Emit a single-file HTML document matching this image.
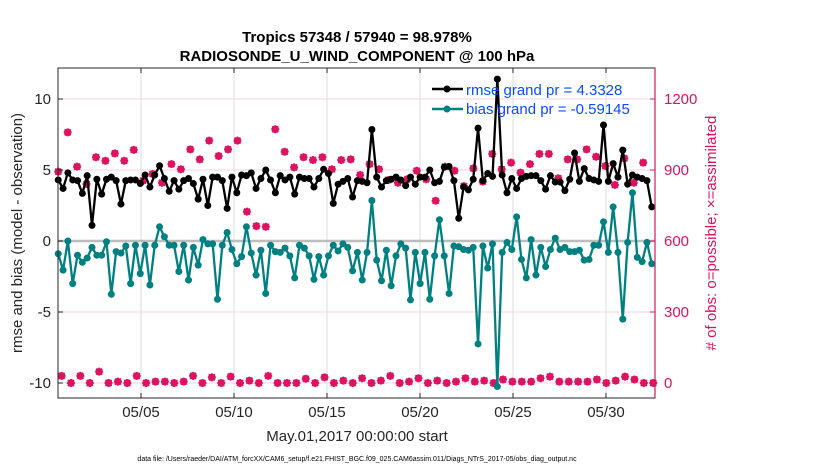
<!DOCTYPE html>
<html><head><meta charset="utf-8"><style>
body{margin:0;background:#fff;width:830px;height:470px;overflow:hidden}
svg{font-family:"Liberation Sans",sans-serif}
</style></head><body>
<svg id="chart" width="830" height="470"></svg>
<script>
const rmseVals=[4.3,3.7,4.8,4.3,4.25,3.35,4.6,1.1,4.35,3.3,4.35,4.5,4.25,2.6,4.25,4.3,4.3,4.05,4.65,3.8,4.65,
5.3,4.4,3.5,4.25,3.65,4.25,4.4,4.05,2.95,4.35,2.5,4.5,4.5,4.25,2.3,4.5,3.4,4.65,4.6,4.8,3.7,
4.4,5.0,4.3,3.4,4.6,4.3,4.5,3.3,4.5,4.4,4.4,3.8,4.4,5.05,4.75,2.65,4.0,4.2,4.4,3.1,4.25,4.2,4.1,7.85,4.5,3.8,4.25,4.35,4.5,4.3,3.9,4.5,4.0,4.5,4.5,5.0,4.1,4.2,5.2,5.25,4.25,1.6,3.8,
3.6,4.35,7.95,4.25,4.75,4.55,11.4,4.65,3.4,4.4,3.7,4.4,4.55,4.6,4.6,4.25,3.65,4.6,4.15,4.15,3.55,4.35,6.2,4.2,5.1,4.4,4.3,4.2,8.17,4.2,5.45,4.5,6.4,4.0,4.65,4.5,4.4,4.25,2.4];
const biasVals=[-0.9,-2.05,0.0,-3.0,-1.0,-1.5,-1.2,-0.45,-1.0,-1.0,-0.05,-3.75,-0.75,-0.85,-0.35,-3.0,-0.3,-2.3,-0.3,-3.1,-0.3,
1.0,0.3,-0.3,-0.3,-2.15,-0.3,-2.75,-0.45,-1.7,0.1,-0.2,-0.2,-4.1,-0.3,0.6,-0.6,-1.6,-1.1,1.0,-0.85,-2.4,
-0.65,-3.7,-0.3,-0.75,-0.8,-0.5,-1.05,-2.6,-0.3,-0.5,-1.05,-2.7,-1.1,-2.4,-1.05,-0.3,-0.7,-0.2,-0.45,-2.1,-0.8,-2.75,-0.8,2.85,-1.35,-2.8,-0.65,-3.15,-1.05,-0.2,-0.5,-4.15,-0.8,-3.0,-0.8,-4.1,-1.05,1.5,-1.05,-3.7,-0.35,-0.4,-0.6,
-0.65,-0.45,-7.25,-0.35,-1.9,-0.2,-10.25,-0.8,-0.1,-0.6,1.7,-1.3,-2.6,0.1,-2.4,-0.45,-1.8,-0.6,0.2,-0.6,-0.45,-0.75,-0.75,-0.65,-1.35,-1.3,-0.3,-0.3,1.35,-0.8,2.4,-0.8,-5.5,-0.1,3.4,-1.15,-1.45,-0.1,-1.6];
const possibleVals=[893,1059,914,841,954,939,970,939,985,855,883,846,925,903,987,945,1024,959,987,1024,724,663,
660,1072,977,911,954,942,954,903,942,945,879,925,903,858,846,861,897,861,770,914,897,832,
907,851,968,903,931,889,925,968,968,865,945,945,987,956,917,837,949,846,931];
const assimVals=[30,0,30,0,48,0,6,0,30,0,6,6,0,6,30,0,24,0,27,0,10,0,30,0,0,0,18,0,24,0,10,
0,20,0,10,30,0,6,20,0,10,0,6,20,6,10,0,15,6,6,6,20,27,6,6,6,6,15,0,10,27,15,0,0];
const xTickVals=[4,9,14,19,24,29];
const xTickLabels=["05/05","05/10","05/15","05/20","05/25","05/30"];
const yTickVals=[10,5,0,-5,-10];
const y2TickVals=[1200,900,600,300,0];
const seriesT0=-0.45, seriesT1=31.46, possT0=-0.45, possT1=31.0, assimT0=-0.27, assimT1=31.54;

const svg=document.getElementById('chart');
const NS='http://www.w3.org/2000/svg';
const L=58,R=655,T=68,B=398;
const xS=t=>141+(t-4)*18.6;
const yS=v=>241-v*14.2;
const y2S=c=>383-c*(284/1200);
function mk(tag,attrs,parent){const e=document.createElementNS(NS,tag);for(const k in attrs)e.setAttribute(k,attrs[k]);(parent||svg).appendChild(e);return e;}
function txt(s,attrs,parent){const e=mk('text',attrs,parent);e.textContent=s;return e;}
const tOf=(i,n,t0,t1)=>t0+(t1-t0)*i/(n-1);

const grid=mk('g',{});


xTickVals.forEach(t=>{mk('line',{x1:xS(t),x2:xS(t),y1:T,y2:B,stroke:'#dcdcdc','stroke-width':1},grid);});
y2TickVals.forEach(c=>{mk('line',{x1:L,x2:R,y1:y2S(c),y2:y2S(c),stroke:'#f6d3e0','stroke-width':1},grid);});
const zl=mk('line',{x1:L,x2:R,y1:yS(0),y2:yS(0),stroke:'#bdbdbd','stroke-width':2.5});



const pk='#dc1360';
function obsMarker(x,y,g){
  mk('circle',{cx:x,cy:y,r:3,fill:'none',stroke:pk,'stroke-width':1.4},g);
  mk('path',{d:`M${x-4} ${y}H${x+4}M${x} ${y-4}V${y+4}M${x-3} ${y-3}L${x+3} ${y+3}M${x-3} ${y+3}L${x+3} ${y-3}`,stroke:pk,'stroke-width':1.8},g);
}
const gp=mk('g',{});


possibleVals.forEach((c,i)=>obsMarker(xS(tOf(i,possibleVals.length,possT0,possT1)),y2S(c),gp));
const ga=mk('g',{});


assimVals.forEach((c,i)=>obsMarker(xS(tOf(i,assimVals.length,assimT0,assimT1)),y2S(c),ga));

function lineSeries(vals,color,name){
  const g=mk('g',{});
  
  
  const pts=vals.map((v,i)=>[xS(tOf(i,vals.length,seriesT0,seriesT1)),yS(v)]);
  mk('polyline',{points:pts.map(p=>p.join(',')).join(' '),fill:'none',stroke:color,'stroke-width':2.3,'stroke-linejoin':'round'},g);
  pts.forEach(p=>mk('circle',{cx:p[0],cy:p[1],r:3.5,fill:color},g));
}
lineSeries(biasVals,'#008080','bias-series');
lineSeries(rmseVals,'#000000','rmse-series');

const ax=mk('rect',{x:L,y:T,width:R-L,height:B-T,fill:'none',stroke:'#262626','stroke-width':1});


mk('line',{x1:R,x2:R,y1:T,y2:B,stroke:pk,'stroke-width':1.2});

const gx=mk('g',{'font-size':15,fill:'#262626','text-anchor':'middle'});


xTickVals.forEach((t,i)=>{mk('line',{x1:xS(t),x2:xS(t),y1:B,y2:B-5,stroke:'#262626'},gx);mk('line',{x1:xS(t),x2:xS(t),y1:T,y2:T+5,stroke:'#262626'},gx);txt(xTickLabels[i],{x:xS(t),y:417},gx);});
const gy=mk('g',{'font-size':15,fill:'#262626','text-anchor':'end'});


yTickVals.forEach(v=>{mk('line',{x1:L,x2:L+5,y1:yS(v),y2:yS(v),stroke:'#262626'},gy);txt(String(v),{x:51,y:yS(v)+5},gy);});
const gy2=mk('g',{'font-size':15,fill:pk,'text-anchor':'start'});


y2TickVals.forEach(c=>{mk('line',{x1:R,x2:R-5,y1:y2S(c),y2:y2S(c),stroke:pk},gy2);txt(String(c),{x:664,y:y2S(c)+5},gy2);});
</script>
<svg width="830" height="470" style="position:absolute;left:0;top:0">
<g font-family="Liberation Sans, sans-serif">
<text x="357" y="42" font-size="15" font-weight="bold" text-anchor="middle" fill="#000">Tropics 57348 / 57940 = 98.978%</text>
<text x="357" y="61" font-size="15" font-weight="bold" text-anchor="middle" fill="#000">RADIOSONDE_U_WIND_COMPONENT @ 100 hPa</text>
<text x="357" y="441" font-size="15" text-anchor="middle" fill="#262626">May.01,2017 00:00:00 start</text>
<text transform="translate(22,233) rotate(-90)" font-size="15" text-anchor="middle" fill="#262626">rmse and bias (model - observation)</text>
<text transform="translate(716,233) rotate(-90)" font-size="15" text-anchor="middle" fill="#dc1360"># of obs: o=possible; ×=assimilated</text>
<text x="357" y="461" font-size="7" text-anchor="middle" fill="#000">data file: /Users/raeder/DAI/ATM_forcXX/CAM6_setup/f.e21.FHIST_BGC.f09_025.CAM6assim.011/Diags_NTrS_2017-05/obs_diag_output.nc</text>
<g>
<g>
<line x1="432" y1="89" x2="463" y2="89" stroke="#000" stroke-width="2.5"/><circle cx="447" cy="89" r="3.5" fill="#000"/>
<text x="466" y="95" font-size="15" fill="#0a4cff">rmse grand pr = 4.3328</text></g>
<g>
<line x1="432" y1="109" x2="463" y2="109" stroke="#008080" stroke-width="2.5"/><circle cx="447" cy="109" r="3.5" fill="#008080"/>
<text x="466" y="114" font-size="15" fill="#0a4cff">bias grand pr = -0.59145</text></g>
</g>
</g></svg>
</body></html>
